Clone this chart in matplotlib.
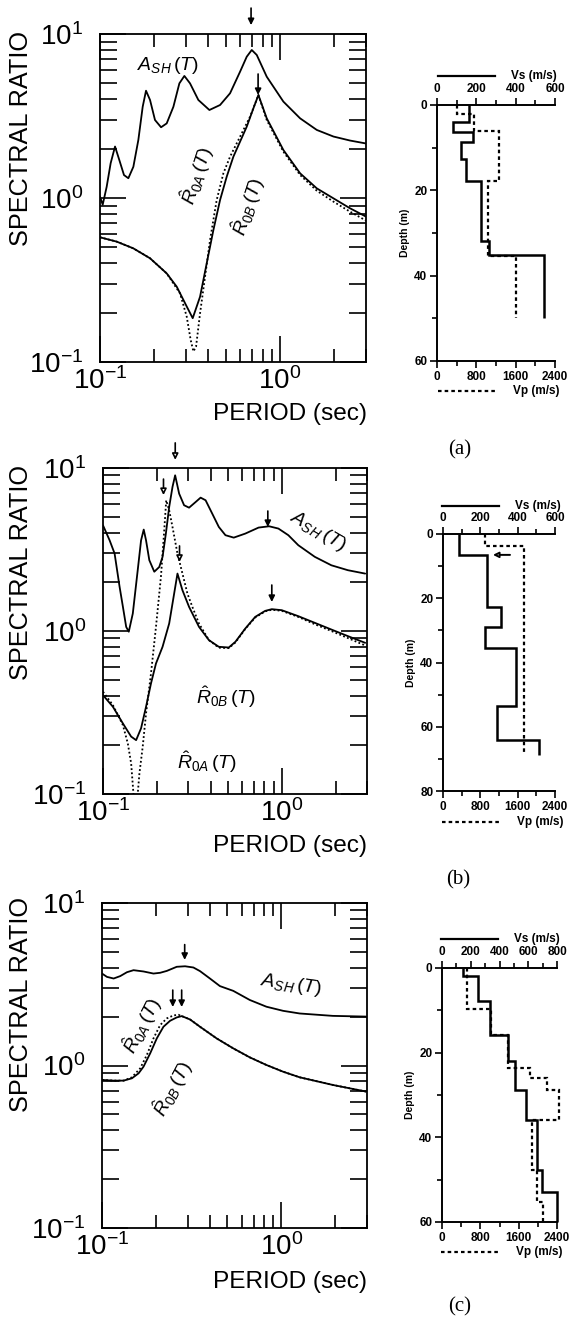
import numpy as np
import matplotlib
matplotlib.use('Agg')
import matplotlib.pyplot as plt
from matplotlib import ticker
from matplotlib.lines import Line2D

W, H = 570, 1338
plt.rcParams['font.family'] = ['Liberation Sans', 'DejaVu Sans']
plt.rcParams['mathtext.fontset'] = 'custom'
plt.rcParams['mathtext.rm'] = 'Liberation Sans'
plt.rcParams['mathtext.it'] = 'Liberation Sans:italic'
plt.rcParams['mathtext.bf'] = 'Liberation Sans:bold'
SANS = ['Liberation Sans', 'DejaVu Sans']

# ---------------- data: spectral ratios ----------------
period_a_ash = [0.100, 0.1035, 0.1089, 0.1146, 0.1212, 0.1281, 0.1359, 0.1437, 0.1532, 0.1633,
                0.1726, 0.1801, 0.1896, 0.2020, 0.2183, 0.2346, 0.2556, 0.2759, 0.2941, 0.3162,
                0.3517, 0.4050, 0.4642, 0.5275, 0.5995, 0.6529, 0.6962, 0.7421, 0.8432, 1.043,
                1.292, 1.599, 1.979, 2.448, 3.0]
ratio_a_ash = [1.02, 0.91, 1.17, 1.63, 2.06, 1.70, 1.38, 1.32, 1.55, 2.26,
               3.60, 4.51, 3.96, 2.99, 2.70, 2.85, 3.60, 5.00, 5.55, 5.00,
               3.96, 3.44, 3.69, 4.35, 5.89, 7.27, 7.99, 7.45, 5.49, 3.87,
               3.06, 2.60, 2.37, 2.24, 2.15]
period_a_r0b = [0.100, 0.1238, 0.1532, 0.1896, 0.2346, 0.2667, 0.3031, 0.3272, 0.3594, 0.3914,
                0.4263, 0.4642, 0.5054, 0.5503, 0.5995, 0.6529, 0.7110, 0.7580, 0.8432, 1.043,
                1.292, 1.599, 1.979, 2.448, 3.0]
ratio_a_r0b = [0.576, 0.542, 0.493, 0.429, 0.347, 0.288, 0.218, 0.185, 0.250, 0.400,
               0.638, 0.972, 1.349, 1.786, 2.206, 2.722, 3.522, 4.246, 3.06, 1.962,
               1.414, 1.145, 0.995, 0.865, 0.77]
period_a_r0a = [0.100, 0.1238, 0.1532, 0.1896, 0.2346, 0.2783, 0.3031, 0.3189, 0.3301, 0.3415,
                0.3594, 0.3831, 0.4085, 0.4446, 0.4843, 0.5275, 0.5995, 0.6813, 0.7580, 0.8432,
                1.043, 1.292, 1.599, 1.979, 2.448, 3.0]
ratio_a_r0a = [0.576, 0.542, 0.493, 0.429, 0.347, 0.262, 0.189, 0.136, 0.116, 0.124,
               0.198, 0.331, 0.555, 0.972, 1.414, 1.786, 2.366, 3.133, 4.246, 2.99,
               1.917, 1.381, 1.108, 0.950, 0.825, 0.728]

period_b_ash = [0.100, 0.1089, 0.1161, 0.1238, 0.1292, 0.1348, 0.1394, 0.1468, 0.1564, 0.1633,
                0.1690, 0.1741, 0.1816, 0.1936, 0.2064, 0.2154, 0.2248, 0.2346, 0.2448, 0.2533,
                0.2667, 0.2842, 0.3031, 0.3301, 0.3517, 0.3750, 0.4085, 0.4446, 0.4843, 0.5389,
                0.6256, 0.7421, 0.8503, 0.9583, 1.089, 1.238, 1.532, 1.896, 2.346, 2.93]
ratio_b_ash = [4.45, 3.60, 2.99, 1.87, 1.41, 1.06, 0.99, 1.28, 2.36, 3.60,
               4.19, 3.60, 2.72, 2.31, 2.47, 2.85, 3.96, 5.77, 7.65, 9.02,
               6.96, 5.91, 5.71, 6.19, 6.58, 6.34, 5.25, 4.35, 3.87, 3.74,
               3.96, 4.31, 4.39, 4.25, 3.87, 3.36, 2.85, 2.53, 2.36, 2.25]
period_b_r0b = [0.100, 0.1136, 0.1292, 0.1437, 0.1532, 0.1633, 0.1741, 0.1856, 0.1979, 0.2154,
                0.2346, 0.2501, 0.2610, 0.2783, 0.3031, 0.3443, 0.3914, 0.4446, 0.5054, 0.5503,
                0.6256, 0.7110, 0.8080, 0.8799, 1.0, 1.238, 1.532, 1.896, 2.346, 2.93]
ratio_b_r0b = [0.404, 0.343, 0.271, 0.225, 0.214, 0.253, 0.343, 0.477, 0.632, 0.800,
               1.112, 1.697, 2.251, 1.779, 1.406, 1.061, 0.879, 0.800, 0.792, 0.858,
               1.036, 1.221, 1.329, 1.361, 1.342, 1.233, 1.122, 1.021, 0.930, 0.846]
period_b_r0a = [0.100, 0.1136, 0.1292, 0.1377, 0.1437, 0.1481, 0.1520, 0.1564, 0.1599, 0.1668,
                0.1741, 0.1856, 0.1979, 0.2109, 0.2201, 0.2258, 0.2346, 0.2448, 0.2610, 0.2783,
                0.2967, 0.3162, 0.3443, 0.3914, 0.4446, 0.5054, 0.5503, 0.6256, 0.7110, 0.8080,
                0.8799, 1.0, 1.238, 1.532, 1.896, 2.346, 2.93]
ratio_b_r0a = [0.424, 0.351, 0.265, 0.204, 0.154, 0.100, 0.070, 0.100, 0.134, 0.195,
               0.312, 0.549, 1.061, 2.148, 4.15, 6.34, 5.50, 4.348, 2.985, 2.251,
               1.697, 1.406, 1.112, 0.879, 0.790, 0.785, 0.850, 1.03, 1.21, 1.32,
               1.35, 1.33, 1.22, 1.10, 1.00, 0.905, 0.815]

period_c_ash = [0.100, 0.1066, 0.1161, 0.1264, 0.1377, 0.1499, 0.1704, 0.1936, 0.2109, 0.2297,
                0.2610, 0.2904, 0.3231, 0.3517, 0.3997, 0.4544, 0.5389, 0.6667, 0.8254, 1.022,
                1.264, 1.936, 2.967]
ratio_c_ash = [3.68, 3.51, 3.43, 3.55, 3.75, 3.86, 3.79, 3.68, 3.72, 3.82,
               4.05, 4.08, 4.01, 3.81, 3.43, 3.08, 2.88, 2.53, 2.30, 2.17,
               2.09, 2.02, 2.00]
period_c_r0b = [0.100, 0.1161, 0.1319, 0.1468, 0.1599, 0.1704, 0.1856, 0.2020, 0.2201, 0.2397,
                0.2610, 0.2783, 0.3095, 0.3517, 0.4355, 0.5389, 0.6667, 0.8254, 1.022, 1.264,
                1.936, 2.967]
ratio_c_r0b = [0.815, 0.807, 0.807, 0.834, 0.895, 0.984, 1.188, 1.468, 1.732, 1.885,
               1.976, 2.014, 1.920, 1.732, 1.468, 1.275, 1.122, 1.007, 0.916, 0.846,
               0.759, 0.691]
period_c_r0a = [0.100, 0.1161, 0.1319, 0.1468, 0.1633, 0.1778, 0.1936, 0.2109, 0.2297, 0.2501,
                0.2667, 0.2783, 0.3095, 0.3517, 0.4355, 0.5389, 0.6667, 0.8254, 1.022, 1.264,
                1.936, 2.967]
ratio_c_r0a = [0.815, 0.807, 0.807, 0.846, 0.961, 1.16, 1.468, 1.773, 1.949, 2.033,
               2.052, 2.014, 1.920, 1.732, 1.468, 1.275, 1.122, 1.007, 0.916, 0.846,
               0.759, 0.691]

# arrows marking peaks: period, and whether the head is open
arrow_a_period = [0.690, 0.755]
arrow_a_open = [False, False]
arrow_b_period = [0.2536, 0.218, 0.268, 0.836, 0.880]
arrow_b_open = [True, True, True, False, False]
arrow_c_period = [0.289, 0.248, 0.278]
arrow_c_open = [False, False, False]

xtick_values = [0.1, 1.0]
xtick_labels = ['$10^{-1}$', '$10^{0}$']
ytick_values = [0.1, 1.0, 10.0]
ytick_labels = ['$10^{-1}$', '$10^{0}$', '$10^{1}$']

# ---------------- data: velocity profiles ----------------
depth_a_vs = [0, 4.1, 6.4, 8.6, 12.7, 17.8, 31.8, 35.1, 50]
vs_a = [164, 83, 185, 122, 147, 222, 265, 546]
depth_a_vp = [0, 2.0, 6.2, 17.8, 35.5, 50]
vp_a = [400, 760, 1270, 1045, 1610]

depth_b_vs = [0, 6.6, 22.8, 29.0, 35.5, 53.6, 64.0, 68.7]
vs_b = [86, 234, 311, 225, 391, 288, 516]
depth_b_vp = [0, 3.7, 68.7]
vp_b = [900, 1736]

depth_c_vs = [0, 1.8, 7.9, 15.8, 22.0, 28.8, 35.8, 47.8, 53.0, 60]
vs_c = [144, 253, 334, 462, 508, 582, 659, 698, 800]
depth_c_vp = [0, 9.7, 15.8, 23.7, 26.0, 28.8, 36.0, 47.8, 55.2, 60]
vp_c = [520, 1020, 1385, 1840, 2200, 2440, 1870, 1975, 2115]

vs_ticks_ab = [0, 200, 400, 600]
vs_ticks_c = [0, 200, 400, 600, 800]
vp_ticks = [0, 800, 1600, 2400]

fig = plt.figure(figsize=(W / 100, H / 100), dpi=100)


def frect(l, t, r, b):
    return [l / W, 1 - b / H, (r - l) / W, (b - t) / H]


def ftext(x, y, s, **kw):
    return fig.text(x / W, 1 - y / H, s, **kw)


def fline(x1, x2, y, **kw):
    fig.add_artist(Line2D([x1 / W, x2 / W], [1 - y / H, 1 - y / H],
                          transform=fig.transFigure, color='k', **kw))


DOT = (0, (1.0, 1.3))


def spectral(box, curves, arrows_p, arrows_open, arrow_tips, labels, ylab_y, xlab_y):
    ax = fig.add_axes(frect(*box))
    ax.set_xscale('log')
    ax.set_yscale('log')
    for T, R, ls in curves:
        ax.plot(T, R, color='k', lw=1.3, ls=ls, solid_joinstyle='round',
                solid_capstyle='round')
    ax.set_xlim(0.1, 3.0)
    ax.set_ylim(0.1, 10)
    ax.xaxis.set_major_locator(ticker.FixedLocator(xtick_values))
    ax.xaxis.set_major_formatter(ticker.FixedFormatter(xtick_labels))
    ax.yaxis.set_major_locator(ticker.FixedLocator(ytick_values))
    ax.yaxis.set_major_formatter(ticker.FixedFormatter(ytick_labels))
    for axis in (ax.xaxis, ax.yaxis):
        axis.set_minor_locator(ticker.LogLocator(base=10, subs=np.arange(2, 10), numticks=30))
        axis.set_minor_formatter(ticker.NullFormatter())
    ax.tick_params(which='both', direction='in', top=True, right=True, width=1.2,
                   labelsize=20)
    ax.tick_params(axis='x', which='major', length=19, pad=4)
    ax.tick_params(axis='x', which='minor', length=9.5)
    ax.tick_params(axis='y', which='major', length=19, pad=12)
    ax.tick_params(axis='y', which='minor', length=12)
    for s in ax.spines.values():
        s.set_linewidth(1.3)
    for p, op, (tip, tail) in zip(arrows_p, arrows_open, arrow_tips):
        ax.annotate('', xy=(p, tip), xytext=(p, tail),
                    xycoords=('data', 'axes fraction'),
                    textcoords=('data', 'axes fraction'),
                    annotation_clip=False,
                    arrowprops=dict(arrowstyle='-|>', lw=1.2, color='k',
                                    fc='white' if op else 'k', ec='k',
                                    mutation_scale=9, shrinkA=0, shrinkB=0))
    for (x, y, s, rot) in labels:
        ftext(x, y, s, rotation=rot, ha='center', va='center', fontsize=14,
              rotation_mode='anchor')
    ftext(21, ylab_y, 'SPECTRAL RATIO', rotation=90, ha='center', va='center',
          fontsize=18.2, family=SANS)
    ftext(290, xlab_y, 'PERIOD (sec)', ha='center', va='center', fontsize=17.6,
          family=SANS)
    return ax


def profile(box, dvs, vs, dvp, vp, vs_max, vs_ticks, depth_max, leg_top, leg_bot, leg_x):
    ax = fig.add_axes(frect(*box))
    ax.set_xlim(0, 2400)
    ax.set_ylim(depth_max, 0)
    ax.stairs(vp, dvp, orientation='horizontal', baseline=None, color='k', lw=1.6,
              ls=(0, (1.6, 1.4)), clip_on=False)
    ax.set_xticks(vp_ticks, labels=[str(v) for v in vp_ticks], fontsize=8.5,
                  fontweight='bold', family=SANS)
    ax.set_xticks([400, 1200, 2000], minor=True)
    dmaj = list(range(0, depth_max + 1, 20))
    ax.set_yticks(dmaj, labels=[str(v) for v in dmaj], fontsize=8.5,
                  fontweight='bold', family=SANS)
    ax.set_yticks(list(range(10, depth_max, 20)), minor=True)
    ax.spines['top'].set_visible(False)
    ax.spines['right'].set_visible(False)
    ax.tick_params(which='both', direction='out', width=1.2, pad=2)
    ax.tick_params(which='major', length=5)
    ax.tick_params(which='minor', length=3.5)
    ax.set_ylabel('Depth (m)', fontsize=7.5, fontweight='bold', family=SANS, labelpad=3)
    axt = ax.twiny()
    axt.set_xlim(0, vs_max)
    axt.stairs(vs, dvs, orientation='horizontal', baseline=None, color='k', lw=1.8,
               clip_on=False)
    axt.set_xticks(vs_ticks, labels=[str(v) for v in vs_ticks], fontsize=8.5,
                   fontweight='bold', family=SANS)
    axt.set_xticks(list(range(100, vs_max, 200)), minor=True)
    axt.tick_params(which='both', direction='out', width=1.2, pad=2)
    axt.tick_params(which='major', length=5)
    axt.tick_params(which='minor', length=3.5)
    for s in ['left', 'right', 'bottom']:
        axt.spines[s].set_visible(False)
    for a in (ax, axt):
        for s in a.spines.values():
            s.set_linewidth(1.4)
    fline(leg_x, leg_x + 57, leg_top, lw=1.6)
    ftext(leg_x + 73, leg_top, 'Vs (m/s)', ha='left', va='center', fontsize=8.5,
          fontweight='bold', family=SANS)
    fline(leg_x, leg_x + 57, leg_bot, lw=1.6, ls=(0, (1.6, 1.4)))
    ftext(leg_x + 75, leg_bot, 'Vp (m/s)', ha='left', va='center', fontsize=8.5,
          fontweight='bold', family=SANS)
    return ax, axt


ASH = r'$A_{SH}\,(T)$'
R0A = r'$\hat{R}_{0A}\,(T)$'
R0B = r'$\hat{R}_{0B}\,(T)$'

# ---- panel (a) ----
spectral((100, 34, 366, 362),
         [(period_a_ash, ratio_a_ash, '-'), (period_a_r0b, ratio_a_r0b, '-'),
          (period_a_r0a, ratio_a_r0a, DOT)],
         arrow_a_period, arrow_a_open, [(1.027, 1.079), (0.814, 0.878)],
         [(168, 65, ASH, 0), (197, 176, R0A, 72), (248, 207, R0B, 72)],
         138, 414)
ax_pa, _ = profile((437, 105, 555, 361), depth_a_vs, vs_a, depth_a_vp, vp_a, 600,
                   vs_ticks_ab, 60, 76, 391, 438)
ftext(460, 450, '(a)', ha='center', va='center', fontsize=15, family='Liberation Serif')

# ---- panel (b) ----
spectral((103, 468, 367, 794),
         [(period_b_ash, ratio_b_ash, '-'), (period_b_r0b, ratio_b_r0b, '-'),
          (period_b_r0a, ratio_b_r0a, DOT)],
         arrow_b_period, arrow_b_open,
         [(1.025, 1.077), (0.917, 0.966), (0.712, 0.761), (0.819, 0.868), (0.589, 0.641)],
         [(318, 531, ASH, -30), (226, 697, R0B, 0), (207, 762, R0A, 0)],
         572, 846)
ax_pb, axt_pb = profile((443, 534, 555, 791), depth_b_vs, vs_b, depth_b_vp, vp_b, 600,
                        vs_ticks_ab, 80, 506, 822, 442)
ax_pb.annotate('', xy=(1071, 6.5), xytext=(1436, 6.5),
               arrowprops=dict(arrowstyle='-|>', lw=1.4, color='k', fc='white', ec='k',
                               mutation_scale=8, shrinkA=0, shrinkB=0))
ftext(458, 880, '(b)', ha='center', va='center', fontsize=15, family='Liberation Serif')

# ---- panel (c) ----
spectral((102, 903, 367, 1228),
         [(period_c_ash, ratio_c_ash, '-'), (period_c_r0b, ratio_c_r0b, '-'),
          (period_c_r0a, ratio_c_r0a, DOT)],
         arrow_c_period, arrow_c_open,
         [(0.825, 0.872), (0.68, 0.732), (0.68, 0.732)],
         [(291, 985, ASH, -8), (142, 1025, R0A, 63), (173, 1088, R0B, 62)],
         1005, 1282)
profile((442, 968, 557, 1222), depth_c_vs, vs_c, depth_c_vp, vp_c, 800,
        vs_ticks_c, 60, 939, 1252, 441)
ftext(460, 1307, '(c)', ha='center', va='center', fontsize=15, family='Liberation Serif')

fig.savefig('out.png', dpi=100, facecolor='white')
